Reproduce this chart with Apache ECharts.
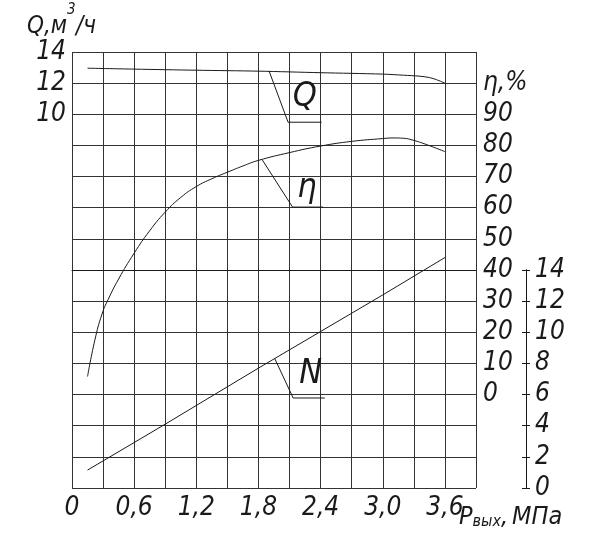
<!DOCTYPE html>
<html><head><meta charset="utf-8">
<script src="https://cdn.jsdelivr.net/npm/echarts@6/dist/echarts.min.js"></script>
<style>html,body{margin:0;padding:0;background:#fff}#c{width:589px;height:556px}</style>
</head><body><div id="c"></div>
<script>
// ---- data ----
var pressureQ = [0.15, 0.6, 1.2, 1.8, 2.4, 3.0, 3.2, 3.35, 3.45, 3.52, 3.6];
var flowQ     = [12.96, 12.9, 12.83, 12.77, 12.67, 12.58, 12.51, 12.45, 12.36, 12.22, 12.0];
var pressureEta = [0.15, 0.22, 0.29, 0.35, 0.45, 0.6, 0.75, 0.9, 1.05, 1.2, 1.35, 1.5, 1.65, 1.8, 2.1, 2.4, 2.7, 3.0, 3.1, 3.2, 3.29, 3.42, 3.6];
var efficiency  = [5.8, 17.4, 25.9, 30.6, 37.1, 45.4, 52.6, 58.6, 63.3, 66.8, 69.3, 71.4, 73.4, 75.2, 77.7, 79.8, 81.3, 82.2, 82.4, 82.3, 81.7, 80.3, 78.0];
var pressureN = [0.15, 0.9, 1.8, 2.4, 3.0, 3.6];
var powerN    = [1.15, 4.1, 7.7, 10.05, 12.4, 14.8];
var xTicks = [0, 0.6, 1.2, 1.8, 2.4, 3.0, 3.6];
var qTicks = [10, 12, 14];
var etaTicks = [0, 10, 20, 30, 40, 50, 60, 70, 80, 90];
var nTicks = [0, 2, 4, 6, 8, 10, 12, 14];
// leader annotations (data coordinates)
var leaderQ = [[1.903, 12.77], [2.086, 9.49], [2.41, 9.49]];
var leaderEta = [[1.836, 75.4], [2.129, 60.2], [2.424, 60.2]];
var leaderN = [[1.958, 8.3], [2.135, 5.78], [2.44, 5.78]];

var F = "'DejaVu Sans Condensed','DejaVu Sans',sans-serif";
var INK = '#1a1a1a';
function zip(a, b) { return a.map(function (v, i) { return [v, b[i]]; }); }
function near(v, arr) { for (var i = 0; i < arr.length; i++) if (Math.abs(arr[i] - v) < 1e-6) return true; return false; }
var lbl = { fontFamily: F, fontStyle: 'italic', fontSize: 26, color: INK };
function leader(name, pts, yIdx, text, pos) {
  return {
    name: name, type: 'line', xAxisIndex: 0, yAxisIndex: yIdx, data: pts, symbol: 'none',
    lineStyle: { color: INK, width: 1 }, silent: true, z: 3,
    markPoint: {
      symbol: 'circle', symbolSize: 1, itemStyle: { color: 'rgba(0,0,0,0)' },
      label: { show: true, position: 'inside', formatter: text, fontFamily: F, fontStyle: 'italic', fontSize: 34, color: INK },
      data: [{ coord: pos }]
    }
  };
}
function nAxis(gridIdx, inside, showLabel) {
  return { type: 'value', gridIndex: gridIdx, position: 'right', offset: 50, min: 0, max: 14, interval: 2,
    axisLine: { show: true, onZero: false, lineStyle: { color: INK, width: 1 } },
    axisTick: { show: true, inside: inside, length: 4, lineStyle: { color: INK } },
    axisLabel: Object.assign({ show: showLabel, margin: 9, formatter: function (v) { return near(v, nTicks) ? String(v) : ''; } }, lbl),
    splitLine: { show: false } };
}

var chart = echarts.init(document.getElementById('c'));
chart.setOption({
  animation: false,
  backgroundColor: '#fff',
  grid: [
    { left: 72, right: 113, top: 52, bottom: 68 },
    { left: 72, right: 113, top: 270, bottom: 68 },
    { left: 72, right: 113, top: 270, bottom: 68 }
  ],
  xAxis: [
    { type: 'value', gridIndex: 0, min: 0, max: 3.9, interval: 0.3,
      axisLine: { show: true, lineStyle: { color: INK } }, axisTick: { show: false },
      splitLine: { show: true, lineStyle: { color: '#333', width: 1 } },
      axisLabel: Object.assign({ margin: 7, formatter: function (v) {
        if (!near(v, xTicks)) return '';
        return v === 0 ? '0' : v.toFixed(1).replace('.', ',');
      } }, lbl) },
    { type: 'value', gridIndex: 1, min: 0, max: 3.9, show: false },
    { type: 'value', gridIndex: 2, min: 0, max: 3.9, show: false }
  ],
  yAxis: [
    { type: 'value', gridIndex: 0, position: 'left', min: -14, max: 14, interval: 2,
      axisLine: { show: false }, axisTick: { show: false },
      splitLine: { show: true, lineStyle: { color: '#333', width: 1 } },
      axisLabel: Object.assign({ margin: 6, formatter: function (v) { return near(v, qTicks) ? String(v) : ''; } }, lbl) },
    { type: 'value', gridIndex: 0, position: 'right', min: -30, max: 110, interval: 10,
      axisLine: { show: false }, axisTick: { show: false }, splitLine: { show: false },
      axisLabel: Object.assign({ margin: 7, formatter: function (v) {
        if (v === 100) return 'η,%';
        return near(v, etaTicks) ? String(v) : '';
      } }, lbl) },
    { type: 'value', gridIndex: 0, min: 0, max: 28, interval: 2, show: false },
    nAxis(1, true, false),
    nAxis(2, false, true)
  ],
  series: [
    { name: 'Q', type: 'line', xAxisIndex: 0, yAxisIndex: 0, data: zip(pressureQ, flowQ), symbol: 'none', smooth: 0.3,
      lineStyle: { color: INK, width: 1 } },
    { name: 'η', type: 'line', xAxisIndex: 0, yAxisIndex: 1, data: zip(pressureEta, efficiency), symbol: 'none', smooth: 0.5,
      lineStyle: { color: INK, width: 1 } },
    { name: 'N', type: 'line', xAxisIndex: 0, yAxisIndex: 2, data: zip(pressureN, powerN), symbol: 'none',
      lineStyle: { color: INK, width: 1 } },
    leader('Q-leader', leaderQ, 0, 'Q', [2.248, 11.1]),
    leader('η-leader', leaderEta, 1, 'η', [2.267, 66.2]),
    leader('N-leader', leaderN, 2, 'N', [2.305, 7.3])
  ],
  graphic: [
    { type: 'text', left: 27, top: 15, style: { text: 'Q,м', font: 'italic 24px ' + F, fill: INK } },
    { type: 'text', left: 67, top: 3, style: { text: '3', font: 'italic 15px ' + F, fill: INK } },
    { type: 'text', left: 76, top: 15, style: { text: '/ч', font: 'italic 24px ' + F, fill: INK } },
    { type: 'text', left: 459, top: 505, style: {
      text: '{p|P}{s|вых}{c|,}{p|МПа}', fill: INK,
      rich: {
        p: { fontFamily: F, fontStyle: 'italic', fontSize: 25, color: INK, verticalAlign: 'bottom', lineHeight: 30 },
        c: { fontFamily: F, fontStyle: 'italic', fontSize: 25, color: INK, verticalAlign: 'bottom', lineHeight: 30, padding: [0, 4, 0, 0] },
        s: { fontFamily: F, fontStyle: 'italic', fontSize: 16, color: INK, verticalAlign: 'bottom', lineHeight: 30, padding: [6, 0, 0, 0] }
      } } }
  ]
});
</script></body></html>
